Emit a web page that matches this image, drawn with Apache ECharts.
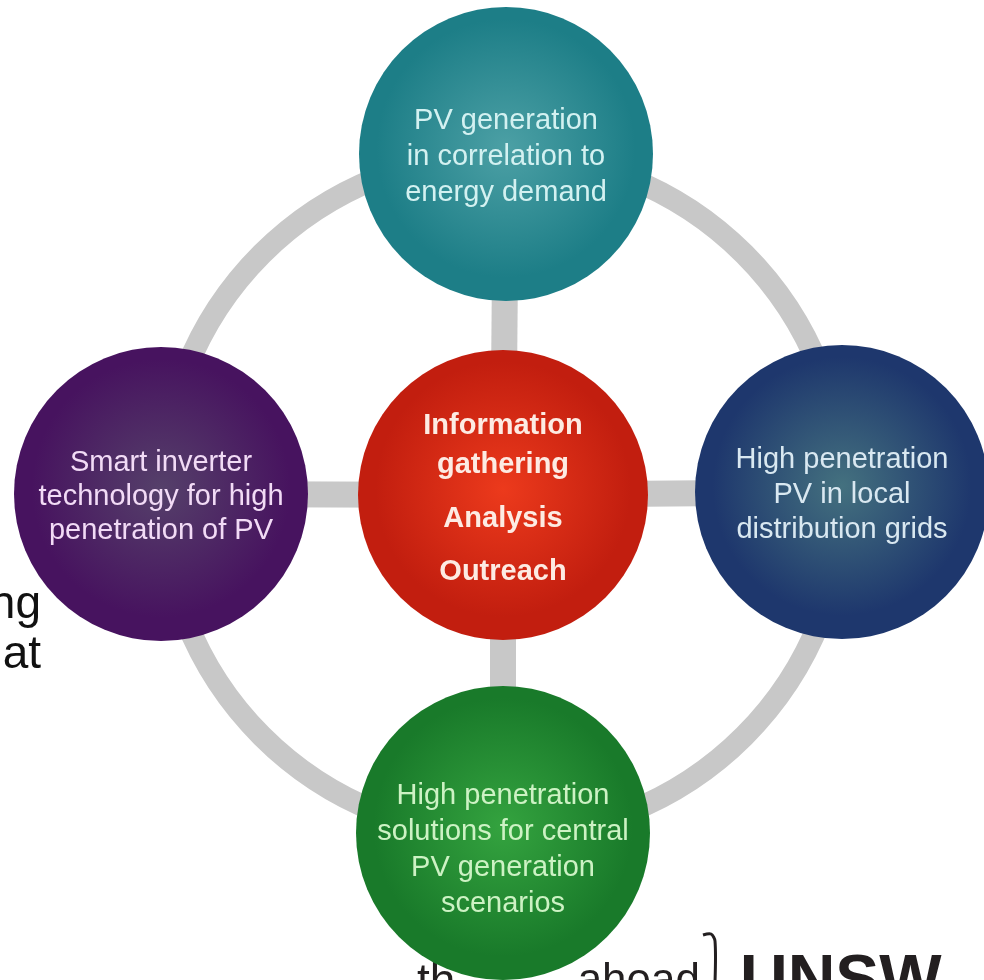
<!DOCTYPE html>
<html>
<head>
<meta charset="utf-8">
<script src="https://cdn.jsdelivr.net/npm/echarts@6/dist/echarts.min.js"></script>
<style>
  html, body { margin: 0; padding: 0; background: #fff; }
  #chartData { width: 984px; height: 980px; }
</style>
</head>
<body>
<div id="chartData"></div>
<script>
// diagram nodes (x / y in page units of the hidden axes)
const nodeNames = [
  'PV generation\nin correlation to\nenergy demand',
  'Smart inverter\ntechnology for high\npenetration of PV',
  'High penetration\nPV in local\ndistribution grids',
  'High penetration\nsolutions for central\nPV generation\nscenarios'
];
const nodeX = [506, 161, 842, 503];
const nodeY = [154, 494, 492, 833];
const hubName = ['Information', 'gathering', 'Analysis', 'Outreach'];
const hubX = 503;
const hubY = 495;

const myChart = echarts.init(document.getElementById('chartData'));

// colours per circle: [centre, edge, text]
const palette = [
  ['#4ca0a5', '#1d7e87', '#d3f1f1'],
  ['#55406a', '#47135f', '#f2dbf6'],
  ['#44717f', '#1e376d', '#d9e8f1'],
  ['#34a33f', '#197a2a', '#cdf2c4']
];
const lineGap = [36, 34, 35, 36];

function radial(c0, c1) {
  return {
    type: 'radial', x: 0.5, y: 0.48, r: 0.55,
    colorStops: [{ offset: 0, color: c0 }, { offset: 0.8, color: c1 }, { offset: 1, color: c1 }]
  };
}

const nodeData = nodeNames.map(function (name, i) {
  return {
    value: [nodeX[i], nodeY[i]],
    name: name,
    itemStyle: { color: radial(palette[i][0], palette[i][1]), opacity: 1 },
    label: {
      color: palette[i][2],
      offset: i === 3 ? [0, 17] : [0, 3],
      lineHeight: lineGap[i]
    }
  };
});

const spokes = nodeNames.map(function (n, i) {
  return { coords: [[hubX, hubY], [nodeX[i], nodeY[i]]] };
});

const option = {
  animation: false,
  grid: { left: 0, right: 0, top: 0, bottom: 0 },
  xAxis: { type: 'value', min: 0, max: 984, show: false },
  yAxis: { type: 'value', min: 0, max: 980, inverse: true, show: false },
  graphic: [
    {
      type: 'text', z: 0, x: 41, y: 580,
      style: { text: 'ng\nat', font: '46px "Liberation Sans"', fill: '#111', align: 'right', lineHeight: 50 }
    },
    {
      type: 'text', z: 0, x: 417, y: 960,
      style: { text: 'th', font: '46px "Liberation Sans"', fill: '#231f20' }
    },
    {
      type: 'text', z: 0, x: 700, y: 960,
      style: { text: 'ahead', font: '44px "Liberation Sans"', fill: '#231f20', align: 'right' }
    },
    {
      type: 'polyline', z: 0,
      shape: { points: [[703, 935], [711, 934], [715, 941], [715, 982]], smooth: 0.3 },
      style: { stroke: '#231f20', lineWidth: 3, fill: null }
    },
    {
      type: 'text', z: 0, x: 740, y: 950,
      style: { text: 'UNSW', font: 'bold 66px "Liberation Sans"', fill: '#231f20' }
    }
  ],
  series: [
    {
      type: 'scatter',
      z: 1,
      silent: true,
      symbol: 'circle',
      symbolSize: 682,
      data: [[hubX, hubY]],
      itemStyle: { color: 'rgba(0,0,0,0)', borderColor: '#c8c8c8', borderWidth: 22, opacity: 1 }
    },
    {
      type: 'lines',
      coordinateSystem: 'cartesian2d',
      z: 2,
      silent: true,
      data: spokes,
      lineStyle: { color: '#c8c8c8', width: 26, opacity: 1 }
    },
    {
      type: 'scatter',
      z: 3,
      silent: true,
      symbol: 'circle',
      symbolSize: 294,
      data: nodeData,
      label: {
        show: true,
        position: 'inside',
        formatter: '{b}',
        fontFamily: 'Liberation Sans',
        fontSize: 29
      }
    },
    {
      type: 'scatter',
      z: 3,
      silent: true,
      symbol: 'circle',
      symbolSize: 290,
      data: [{ value: [hubX, hubY], name: hubName.join('|') }],
      itemStyle: { color: radial('#ec3a1c', '#c21e0f'), opacity: 1 },
      label: {
        show: true,
        position: 'inside',
        offset: [0, 7],
        formatter: function () {
          return '{t|' + hubName[0] + '}\n{t|' + hubName[1] + '}\n{s| }\n{u|' + hubName[2] + '}\n{u|' + hubName[3] + '}';
        },
        rich: {
          t: { fontFamily: 'Liberation Sans', fontWeight: 'bold', fontSize: 29, color: '#fdebe3', lineHeight: 39 },
          s: { fontSize: 4, lineHeight: 8 },
          u: { fontFamily: 'Liberation Sans', fontWeight: 'bold', fontSize: 29, color: '#fdebe3', lineHeight: 53 }
        }
      }
    }
  ]
};

myChart.setOption(option, true);
</script>
</body>
</html>
